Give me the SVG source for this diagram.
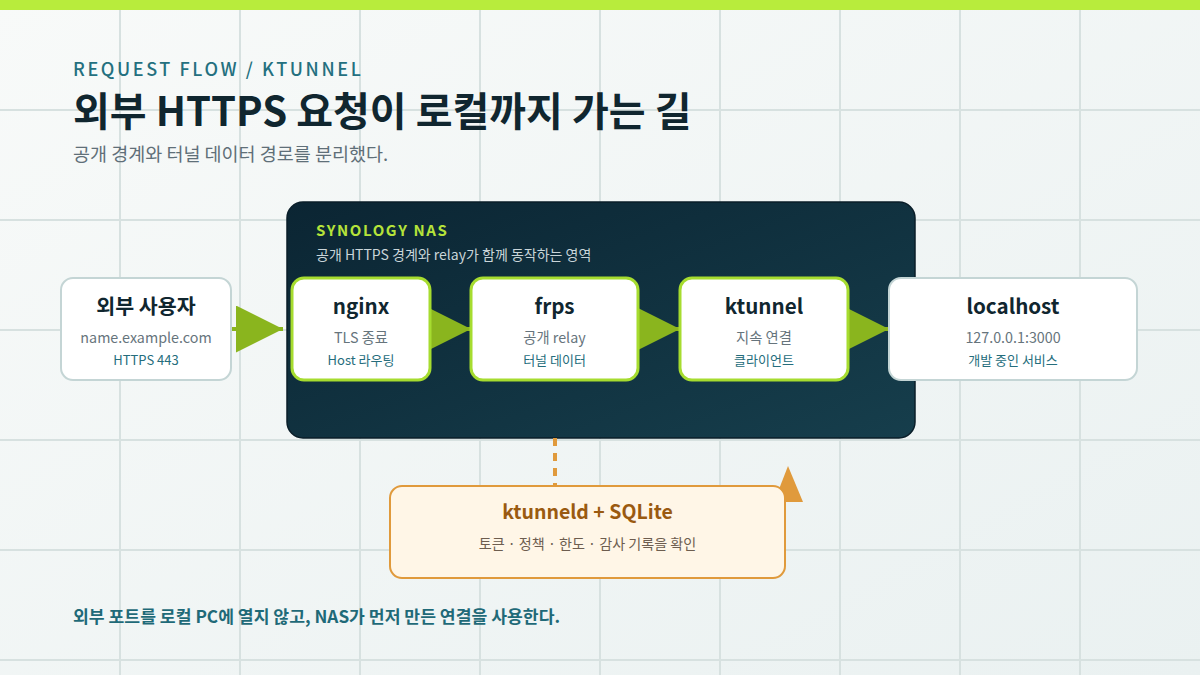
<svg xmlns="http://www.w3.org/2000/svg" width="1200" height="675" viewBox="0 0 1200 675">
  <defs>
    <linearGradient id="bg" x1="0" y1="0" x2="1" y2="1">
      <stop offset="0" stop-color="#f8faf9"/>
      <stop offset="1" stop-color="#eaf1f1"/>
    </linearGradient>
    <linearGradient id="nas" x1="0" y1="0" x2="1" y2="1">
      <stop offset="0" stop-color="#0b2533"/>
      <stop offset="1" stop-color="#163e4c"/>
    </linearGradient>
    <marker id="ah" viewBox="0 0 10 10" refX="10" refY="5" markerWidth="47" markerHeight="47" markerUnits="userSpaceOnUse" orient="auto">
      <path d="M0,0L10,5L0,10z" fill="#8ab51e"/>
    </marker>
    <style>
      .grid line { stroke: #d7e1e0; stroke-width: 2; }
      .t { font-family: "Noto Sans CJK KR", "Noto Sans", sans-serif; }
      .node { fill: #ffffff; stroke: #c4d5d5; stroke-width: 2; }
      .inner { fill: #ffffff; stroke: #a6dc2f; stroke-width: 3; }
      .ttl { font-size: 20.6px; font-weight: 700; fill: #10262f; text-anchor: middle; }
      .l2 { font-size: 14.3px; fill: #66747c; text-anchor: middle; }
      .l3 { font-size: 13px; fill: #256d7c; text-anchor: middle; }
      .flow { stroke: #8ab51e; stroke-width: 4; fill: none; marker-end: url(#ah); }
    </style>
  </defs>

  <rect width="1200" height="675" fill="url(#bg)"/>
  <g class="grid">
    <line x1="120" y1="0" x2="120" y2="675"/>
    <line x1="240" y1="0" x2="240" y2="675"/>
    <line x1="360" y1="0" x2="360" y2="675"/>
    <line x1="480" y1="0" x2="480" y2="675"/>
    <line x1="600" y1="0" x2="600" y2="675"/>
    <line x1="720" y1="0" x2="720" y2="675"/>
    <line x1="840" y1="0" x2="840" y2="675"/>
    <line x1="960" y1="0" x2="960" y2="675"/>
    <line x1="1080" y1="0" x2="1080" y2="675"/>
    <line x1="0" y1="110" x2="1200" y2="110"/>
    <line x1="0" y1="220" x2="1200" y2="220"/>
    <line x1="0" y1="330" x2="1200" y2="330"/>
    <line x1="0" y1="440" x2="1200" y2="440"/>
    <line x1="0" y1="550" x2="1200" y2="550"/>
    <line x1="0" y1="660" x2="1200" y2="660"/>
  </g>
  <rect x="0" y="0" width="1200" height="10" fill="#b8ec3c"/>

  <g id="header" class="t">
    <text x="73" y="76" font-size="18" font-weight="500" letter-spacing="2.6" fill="#24707f">REQUEST FLOW / KTUNNEL</text>
    <text x="73" y="126" font-size="40" font-weight="700" fill="#10262f">외부 HTTPS 요청이 로컬까지 가는 길</text>
    <text x="73" y="161" font-size="18.5" fill="#5f6f78">공개 경계와 터널 데이터 경로를 분리했다.</text>
  </g>

  <g id="nas" class="t">
    <rect x="287" y="202" width="628" height="236" rx="16" fill="url(#nas)" stroke="#0a1e29" stroke-width="1.5"/>
    <text x="316" y="236" font-size="15" font-weight="600" letter-spacing="1.6" fill="#b5e33a">SYNOLOGY NAS</text>
    <text x="316" y="260" font-size="14" fill="#c9d5d9">공개 HTTPS 경계와 relay가 함께 동작하는 영역</text>
  </g>

  <g id="connectors">
    <line class="flow" x1="231" y1="329" x2="283" y2="329"/>
    <line class="flow" x1="428" y1="329" x2="471" y2="329"/>
    <line class="flow" x1="636" y1="329" x2="680" y2="329"/>
    <line class="flow" x1="846" y1="329" x2="889" y2="329"/>
    <line x1="555" y1="438" x2="555" y2="486" stroke="#e09a3c" stroke-width="4" stroke-dasharray="8 7"/>
    <path d="M788,466L803,502L774,502z" fill="#e09a3c"/>
  </g>

  <g id="user" class="t">
    <rect class="node" x="61" y="278" width="170" height="102" rx="12"/>
    <text class="ttl" x="146" y="314" font-size="20">외부 사용자</text>
    <text class="l2" x="146" y="343" font-size="15.8">name.example.com</text>
    <text class="l3" x="146" y="365">HTTPS 443</text>
  </g>

  <g id="nginx" class="t">
    <rect class="inner" x="292" y="278" width="138" height="102" rx="12"/>
    <text class="ttl" x="361" y="314">nginx</text>
    <text class="l2" x="361" y="343">TLS 종료</text>
    <text class="l3" x="361" y="365">Host 라우팅</text>
  </g>

  <g id="frps" class="t">
    <rect class="inner" x="471" y="278" width="167" height="102" rx="12"/>
    <text class="ttl" x="554.5" y="314">frps</text>
    <text class="l2" x="554.5" y="343">공개 relay</text>
    <text class="l3" x="554.5" y="365">터널 데이터</text>
  </g>

  <g id="ktunnel" class="t">
    <rect class="inner" x="680" y="278" width="168" height="102" rx="12"/>
    <text class="ttl" x="764" y="314">ktunnel</text>
    <text class="l2" x="764" y="343">지속 연결</text>
    <text class="l3" x="764" y="365">클라이언트</text>
  </g>

  <g id="localhost" class="t">
    <rect class="node" x="889" y="278" width="248" height="102" rx="12"/>
    <text class="ttl" x="1013" y="314">localhost</text>
    <text class="l2" x="1013" y="343">127.0.0.1:3000</text>
    <text class="l3" x="1013" y="365">개발 중인 서비스</text>
  </g>

  <g id="ktunneld" class="t">
    <rect x="390" y="486" width="395" height="92" rx="12" fill="#fff6e7" stroke="#e09a3c" stroke-width="2"/>
    <text x="587.5" y="519" font-size="19.5" font-weight="700" fill="#9a5a10" text-anchor="middle">ktunneld + SQLite</text>
    <text x="587.5" y="549" font-size="14.1" fill="#6d5d4f" text-anchor="middle">토큰 · 정책 · 한도 · 감사 기록을 확인</text>
  </g>

  <g id="footer" class="t">
    <text x="73" y="623" font-size="17.2" font-weight="700" fill="#1f6a78">외부 포트를 로컬 PC에 열지 않고, NAS가 먼저 만든 연결을 사용한다.</text>
  </g>
</svg>
